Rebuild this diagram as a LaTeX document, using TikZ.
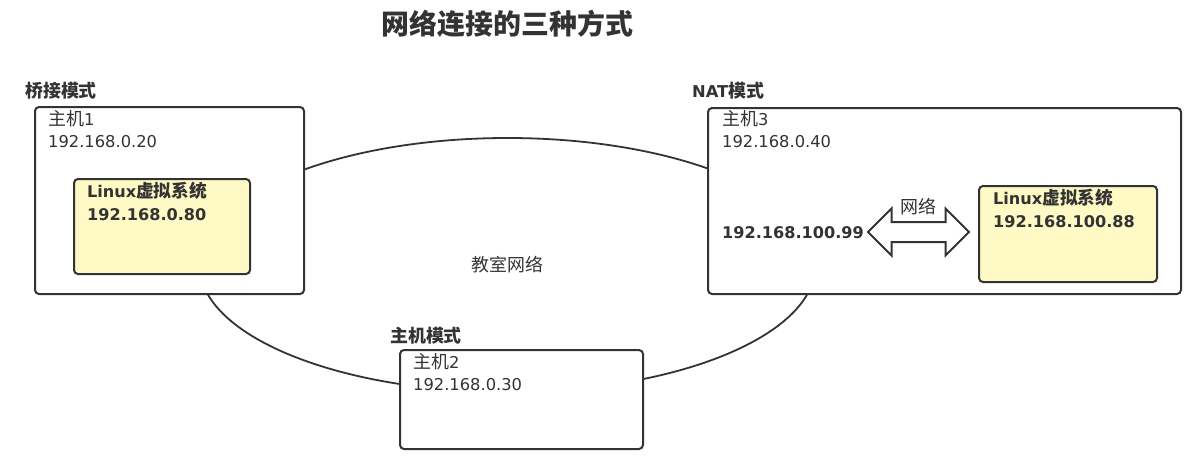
\documentclass[tikz,border=0pt]{standalone}
\usepackage{fontspec}
\setmainfont{DejaVu Sans}
\newfontfamily\cjk{Noto Sans CJK SC}[Scale=1.1]
\usetikzlibrary{shapes.geometric,shapes.arrows,positioning}
\definecolor{ink}{HTML}{333333}
\definecolor{vmyellow}{HTML}{FFF9C6}
\tikzset{
  hostbox/.style={draw=ink,line width=2pt,rounded corners=4pt,fill=white,anchor=north west,inner sep=0pt},
  vmbox/.style={hostbox,fill=vmyellow},
  modelabel/.style={anchor=west,inner sep=0pt,text=ink,font=\bfseries\fontsize{16.3}{20}\selectfont},
  hosttext/.style={anchor=north west,inner sep=0pt,align=left,text=ink,font=\fontsize{16.3}{22}\selectfont},
  vmtext/.style={hosttext,font=\bfseries\fontsize{16.1}{23}\selectfont}
}
\begin{document}
\begin{tikzpicture}[x=1pt,y=-1pt]
\useasboundingbox (0,0) rectangle (1204,464);
\node[text=ink,font=\cjk\bfseries\fontsize{25.4}{30}\selectfont] (title) at (507.5,24) {网络连接的三种方式};
\node[draw=ink,line width=1.8pt,ellipse,minimum width=616,minimum height=254,text=ink,font=\cjk\fontsize{16.3}{20}\selectfont] (lan) at (507.5,265) {教室网络};
\node[hostbox,minimum width=269,minimum height=187] (host1) at (34,106) {};
\node[vmbox,minimum width=176,minimum height=95] (vm1) at (73,178) {};
\node[modelabel] (bridge) at (25,91) {\cjk 桥接模式};
\node[hosttext] (host1txt) at (48,110) {{\cjk 主机}1\\192.168.0.20};
\node[vmtext] (vm1txt) at (87,182) {Linux{\cjk 虚拟系统}\\192.168.0.80};
\node[hostbox,minimum width=243,minimum height=99] (host2) at (399,349) {};
\node[modelabel] (hostonly) at (390,336) {\cjk 主机模式};
\node[hosttext] (host2txt) at (413,353) {{\cjk 主机}2\\192.168.0.30};
\node[hostbox,minimum width=473,minimum height=186] (host3) at (707,107) {};
\node[vmbox,minimum width=178,minimum height=96] (vm3) at (978,185) {};
\node[modelabel] (nat) at (692,91) {NAT{\cjk 模式}};
\node[hosttext] (host3txt) at (722,110) {{\cjk 主机}3\\192.168.0.40};
\node[vmtext] (vm3txt) at (993,189) {Linux{\cjk 虚拟系统}\\192.168.100.88};
\node[vmtext,anchor=west] (natip) at (722,233) {192.168.100.99};
\node[double arrow,draw=ink,line width=2pt,fill=white,minimum height=101,inner sep=9pt,double arrow head extend=13.5pt] (natlink) at (918.5,232) {};
\node[text=ink,inner sep=0pt,font=\cjk\fontsize{16.3}{20}\selectfont] (natlinktxt) at (918,207) {网络};
\end{tikzpicture}
\end{document}
